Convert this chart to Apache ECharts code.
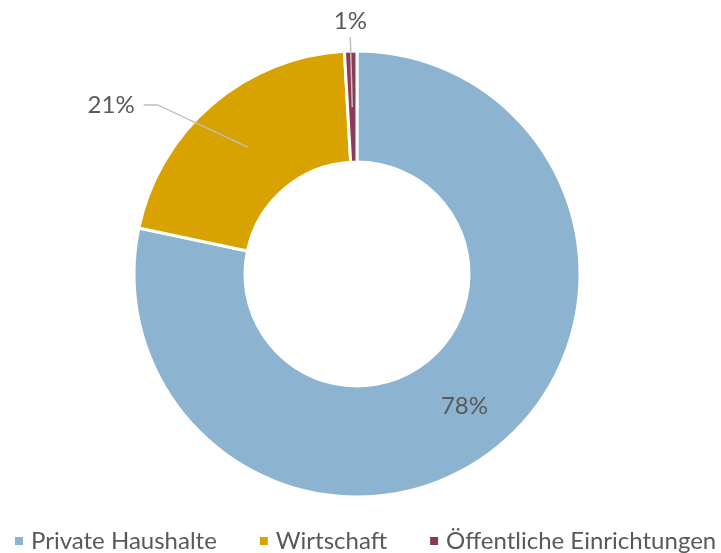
<!DOCTYPE html>
<html>
<head>
<meta charset="utf-8">
<script src="https://cdn.jsdelivr.net/npm/echarts@6/dist/echarts.min.js"></script>
<style>
  html, body { margin: 0; padding: 0; background: #fff; }
  #chart { width: 721px; height: 553px; }
</style>
</head>
<body>
<div id="chart"></div>
<script>
const categories = ["Private Haushalte", "Wirtschaft", "Öffentliche Einrichtungen"];
const shares = [78.3, 20.8, 0.9];
const colors = ["#8CB4D0", "#D8A200", "#8E3A54"];

const font = "Lato, 'Open Sans', sans-serif";
const textColor = "#595959";

const chart = echarts.init(document.getElementById("chart"));

const pct = p => Math.round(p.percent) + "%";

// keep the leader's start and end, but make its elbow sit close to the label
const leaderLayout = p => {
  if (p.dataIndex === 2) return { align: "center", verticalAlign: "bottom" };
  const pts = p.labelLinePoints;
  if (p.dataIndex === 1 && pts && pts.length === 3) {
    return { labelLinePoints: [pts[0], [pts[2][0] + 14, pts[2][1]], pts[2]] };
  }
  return {};
};

chart.setOption({
  animation: false,
  color: colors,
  legend: {
    data: categories,
    left: 15,
    bottom: 0,
    width: 706,
    padding: 0,
    icon: "rect",
    itemWidth: 8,
    itemHeight: 8,
    itemGap: 43,
    itemStyle: { borderWidth: 0 },
    textStyle: { color: textColor, fontFamily: font, fontSize: 24, padding: [0, 0, 0, 3] }
  },
  series: [
    {
      // the donut itself, with the inside label of the big slice
      type: "pie",
      z: 2,
      center: [357, 274],
      radius: [112, 223],
      startAngle: 90,
      clockwise: true,
      avoidLabelOverlap: false,
      itemStyle: { borderColor: "#fff", borderWidth: 3 },
      label: {
        show: true,
        position: "inside",
        formatter: pct,
        color: textColor,
        fontFamily: font,
        fontSize: 24
      },
      labelLine: { show: false },
      data: categories.map((name, i) => ({
        name,
        value: shares[i],
        label: { show: i === 0 }
      }))
    },
    {
      // invisible copy so the leader lines start mid-ring
      type: "pie",
      z: 5,
      center: [357, 274],
      radius: [0, 167],
      startAngle: 90,
      clockwise: true,
      silent: true,
      legendHoverLink: false,
      avoidLabelOverlap: false,
      itemStyle: { color: "rgba(0,0,0,0)" },
      label: {
        show: true,
        position: "outside",
        formatter: pct,
        color: textColor,
        fontFamily: font,
        fontSize: 24,
        distanceToLabelLine: 5
      },
      labelLine: { show: true, lineStyle: { color: "#BFBFBF", width: 1.5 } },
      labelLayout: leaderLayout,
      data: categories.map((name, i) => ({
        name: name + " ",
        value: shares[i],
        label: i === 2
          ? { show: true, distanceToLabelLine: 0, padding: [0, 0, 4, 0] }
          : { show: i !== 0, distanceToLabelLine: 9 },
        labelLine: i === 1 ? { show: true, length: 56, length2: 68 }
                 : i === 2 ? { show: true, length: 70, length2: 0 }
                 : { show: false }
      }))
    }
  ]
});
</script>
</body>
</html>
